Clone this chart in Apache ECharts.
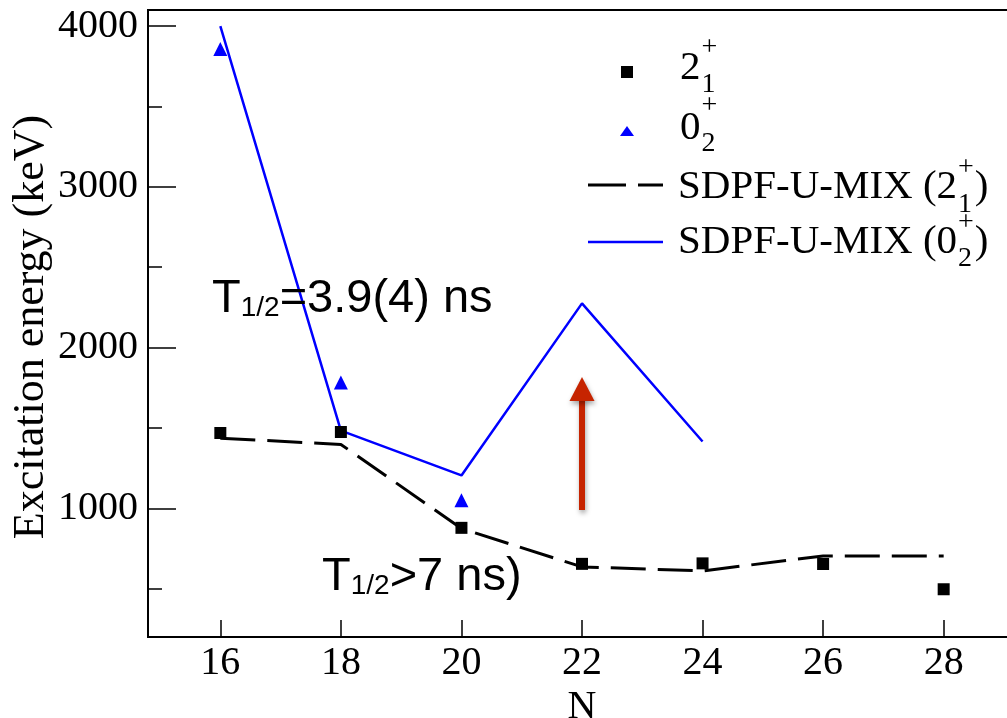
<!DOCTYPE html>
<html>
<head>
<meta charset="utf-8">
<script src="https://cdn.jsdelivr.net/npm/echarts@6/dist/echarts.min.js"></script>
<style>
  html, body { margin: 0; padding: 0; background: #fff; }
  #chart { width: 1007px; height: 718px; }
</style>
</head>
<body>
<div id="chart"></div>
<script>
// ---- data ----
const nValues = [16, 18, 20, 22, 24, 26, 28];
const exp21 = [1469, 1475, 879, 655, 658, 654, 497];          // 2_1^+ (squares)
const nExp02 = [16, 18, 20];
const exp02 = [3858, 1783, 1050];                              // 0_2^+ (triangles)
const theo21 = [1437, 1398, 875, 636, 611, 704, 704];          // SDPF-U-MIX (2_1^+)
const nTheo02 = [16, 18, 20, 22, 24];
const theo02 = [4000, 1484, 1205, 2275, 1416];                 // SDPF-U-MIX (0_2^+)
const xTickValues = [16, 18, 20, 22, 24, 26, 28];
const yMajorTicks = [1000, 2000, 3000, 4000];
const yMinorTicks = [500, 1500, 2500, 3500];
const arrowN = 22, arrowFrom = 990, arrowTo = 1817;

const zip = (xs, ys) => xs.map((x, i) => [x, ys[i]]);
const SERIF = '"Liberation Serif", "Times New Roman", serif';
const SANS = '"Liberation Sans", Arial, sans-serif';
const LEG = 41;   // legend main font size
const SUP = 28;   // sup/sub font size

const measureCtx = document.createElement('canvas').getContext('2d');
function textWidth(t, size, family) {
  measureCtx.font = size + 'px ' + family;
  return measureCtx.measureText(t).width;
}

const chart = echarts.init(document.getElementById('chart'), null, { renderer: 'canvas' });

const option = {
  animation: false,
  backgroundColor: '#fff',
  textStyle: { fontFamily: SERIF },
  grid: {
    left: 148, top: 10, width: 868, height: 627, outerBoundsMode: 'none', containLabel: false,
    show: true, borderColor: '#000', borderWidth: 2, backgroundColor: 'transparent'
  },
  xAxis: {
    type: 'value', min: 14.8, max: 29.2,
    name: 'N', nameLocation: 'middle', nameGap: 46,
    nameTextStyle: { fontFamily: SERIF, fontSize: 40, color: '#000' },
    axisLine: { show: true, lineStyle: { color: '#000', width: 2 } },
    axisTick: { show: true, inside: true, length: 17, customValues: xTickValues, lineStyle: { color: '#000', width: 1.5 } },
    axisLabel: { customValues: xTickValues, margin: 6, fontFamily: SERIF, fontSize: 40, color: '#000', formatter: v => String(v) },
    splitLine: { show: false }
  },
  yAxis: [{
    type: 'value', min: 200, max: 4100, position: 'left',
    axisLine: { show: true, lineStyle: { color: '#000', width: 2 } },
    axisTick: { show: true, inside: true, length: 28, customValues: yMajorTicks, lineStyle: { color: '#000', width: 1.5 } },
    axisLabel: { customValues: yMajorTicks, margin: 10, padding: [6, 0, 0, 0], fontFamily: SERIF, fontSize: 40, color: '#000', formatter: v => String(v) },
    splitLine: { show: false }
  }, {
    type: 'value', min: 200, max: 4100, position: 'left',
    axisLine: { show: false },
    axisTick: { show: true, inside: true, length: 14, customValues: yMinorTicks, lineStyle: { color: '#000', width: 1.5 } },
    axisLabel: { show: false },
    splitLine: { show: false }
  }],
  series: [
    {
      name: 'SDPF-U-MIX (2+)', type: 'line', data: zip(nValues, theo21),
      symbol: 'none', lineStyle: { color: '#000', width: 3, type: [35, 12] }, z: 2
    },
    {
      name: 'SDPF-U-MIX (0+)', type: 'line', data: zip(nTheo02, theo02),
      symbol: 'none', lineStyle: { color: '#0000ff', width: 2.5 }, z: 2
    },
    {
      name: '2+', type: 'scatter', data: zip(nValues, exp21),
      symbol: 'rect', symbolSize: 12, itemStyle: { color: '#000', opacity: 1 }, z: 3
    },
    {
      name: '0+', type: 'scatter', data: zip(nExp02, exp02),
      symbol: 'triangle', symbolSize: [14, 14], itemStyle: { color: '#0000ff', opacity: 1 }, z: 3
    }
  ]
};
chart.setOption(option);

// ---- annotations & legend ----
const p0 = chart.convertToPixel({ xAxisIndex: 0, yAxisIndex: 0 }, [arrowN, arrowFrom]);
const p1 = chart.convertToPixel({ xAxisIndex: 0, yAxisIndex: 0 }, [arrowN, arrowTo]);
const red = '#c62400';
const shadow = { shadowBlur: 5, shadowColor: 'rgba(0,0,0,0.35)', shadowOffsetX: 1, shadowOffsetY: 3 };

function txt(x, y, text, size, family, align) {
  return { type: 'text', x: x, y: y, z: 10,
    style: { text: text, fontFamily: family || SERIF, fontSize: size, fill: '#000',
      align: align || 'left', verticalAlign: 'middle' } };
}

const w3 = textWidth('SDPF-U-MIX (2', LEG, SERIF);
const w4 = textWidth('SDPF-U-MIX (0', LEG, SERIF);
const wSup = textWidth('+', SUP, SERIF);
const wd = textWidth('2', LEG, SERIF);

const graphics = [
  // y-axis title (rotated)
  { type: 'text', x: 31, y: 327, rotation: Math.PI / 2, z: 10,
    style: { text: 'Excitation energy (keV)', fontFamily: SERIF, fontSize: 44, fill: '#000',
      align: 'center', verticalAlign: 'middle' } },

  // red arrow
  { type: 'line', z: 9, shape: { x1: p0[0], y1: p0[1], x2: p1[0], y2: p1[1] + 20 },
    style: Object.assign({ stroke: red, lineWidth: 6 }, shadow) },
  { type: 'polygon', z: 9, shape: { points: [[p1[0], p1[1]], [p1[0] - 12.5, p1[1] + 24], [p1[0] + 12.5, p1[1] + 24]] },
    style: Object.assign({ fill: red }, shadow) },

  // half-life annotations
  { type: 'text', x: 212, y: 299, z: 10,
    style: { text: 'T{s|1/2}=3.9(4) ns', fontFamily: SANS, fontSize: 47, fill: '#000', verticalAlign: 'middle',
      rich: { s: { fontFamily: SANS, fontSize: 28, lineHeight: 34, verticalAlign: 'bottom', fill: '#000' } } } },
  { type: 'text', x: 322, y: 577, z: 10,
    style: { text: 'T{s|1/2}>7 ns)', fontFamily: SANS, fontSize: 47, fill: '#000', verticalAlign: 'middle',
      rich: { s: { fontFamily: SANS, fontSize: 28, lineHeight: 34, verticalAlign: 'bottom', fill: '#000' } } } },

  // legend markers
  { type: 'rect', z: 10, shape: { x: 621, y: 66, width: 12, height: 12 }, style: { fill: '#000' } },
  { type: 'polygon', z: 10, shape: { points: [[627, 126], [620, 136], [634, 136]] }, style: { fill: '#0000ff' } },
  { type: 'line', z: 10, shape: { x1: 588, y1: 185, x2: 663, y2: 185 }, style: { stroke: '#000', lineWidth: 3, lineDash: [38, 12] } },
  { type: 'line', z: 10, shape: { x1: 588, y1: 242, x2: 663, y2: 242 }, style: { stroke: '#0000ff', lineWidth: 2.5 } },

  // legend texts
  txt(680, 68, '2', LEG), txt(680 + wd + 1, 48, '+', SUP), txt(680 + wd + 1, 85, '1', SUP),
  txt(680, 128, '0', LEG), txt(680 + wd + 1, 106, '+', SUP), txt(680 + wd + 1, 144, '2', SUP),
  txt(678, 187, 'SDPF-U-MIX (2', LEG), txt(678 + w3 + 1, 168, '+', SUP), txt(678 + w3 + 1, 205, '1', SUP),
  txt(678 + w3 + wSup + 2, 187, ')', LEG),
  txt(678, 242, 'SDPF-U-MIX (0', LEG), txt(678 + w4 + 1, 223, '+', SUP), txt(678 + w4 + 1, 259, '2', SUP),
  txt(678 + w4 + wSup + 2, 242, ')', LEG)
];
chart.setOption({ graphic: graphics });
</script>
</body>
</html>
